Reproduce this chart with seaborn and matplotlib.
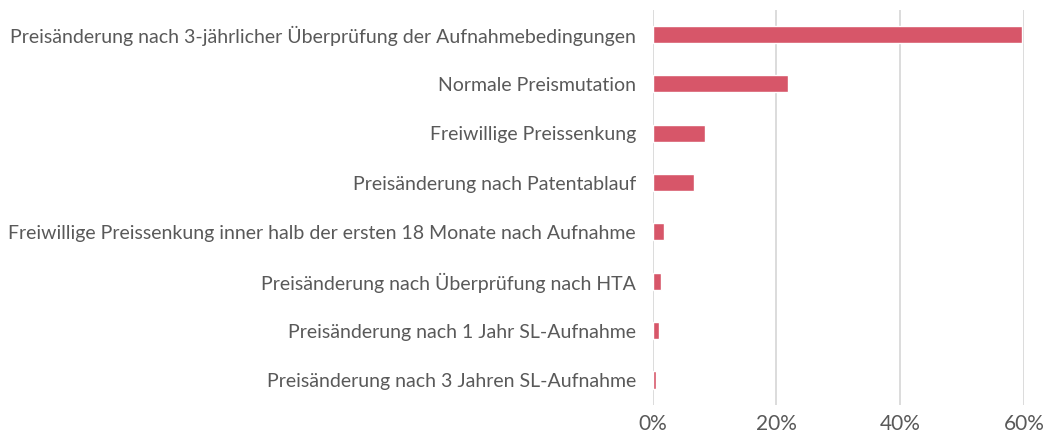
import pandas as pd
import matplotlib.pyplot as plt
import matplotlib.ticker as mtick
import seaborn as sns

# Daten
categories = [
    'Preisänderung nach 3-jährlicher Überprüfung der Aufnahmebedingungen',
    'Normale Preismutation',
    'Freiwillige Preissenkung',
    'Preisänderung nach Patentablauf',
    'Freiwillige Preissenkung inner halb der ersten 18 Monate nach Aufnahme',
    'Preisänderung nach Überprüfung nach HTA',
    'Preisänderung nach 1 Jahr SL-Aufnahme',
    'Preisänderung nach 3 Jahren SL-Aufnahme',
]
shares = [0.597, 0.219, 0.085, 0.066, 0.018, 0.013, 0.011, 0.005]
x_ticks = [0, 0.2, 0.4, 0.6]

df = pd.DataFrame({'Kategorie': categories, 'Anteil': shares})

sns.set_style('white')
plt.rcParams['font.family'] = ['Lato', 'DejaVu Sans']

fig = plt.figure(figsize=(10.48, 4.48), dpi=100)
ax = fig.add_axes([0.6228, 0.0967, 0.3542, 0.8813])

sns.barplot(data=df, x='Anteil', y='Kategorie', color='#d75669',
            width=0.345, saturation=1, ax=ax, zorder=3)

ax.set_xlim(0, 0.6)
ax.set_xticks(x_ticks)
ax.xaxis.set_major_formatter(mtick.PercentFormatter(1.0, decimals=0))
ax.grid(axis='x', color='#d9d9d9', linewidth=1.3, zorder=0)
ax.set_xlabel('')
ax.set_ylabel('')
for s in ax.spines.values():
    s.set_visible(False)
ax.tick_params(axis='y', length=0, pad=12, labelsize=14, labelcolor='#595959')
ax.tick_params(axis='x', length=0, pad=7, labelsize=15, labelcolor='#595959')

fig.savefig('out.png', dpi=100)
